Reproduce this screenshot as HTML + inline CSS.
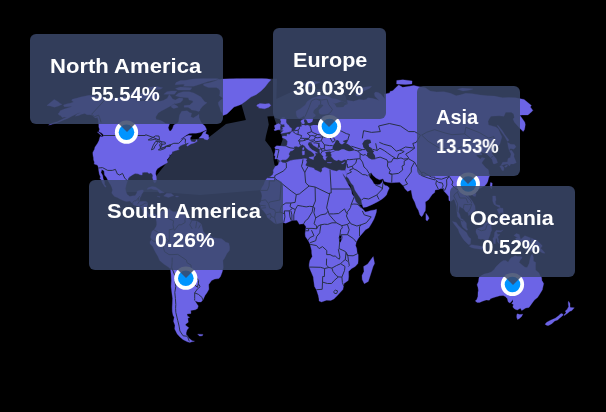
<!DOCTYPE html>
<html><head><meta charset="utf-8"><style>
html,body{margin:0;padding:0;background:#000;}
body{width:606px;height:412px;overflow:hidden;position:relative;font-family:"Liberation Sans",sans-serif;}
svg{position:absolute;left:0;top:0;}
.tt{position:absolute;background:rgba(59,72,106,0.85);border-radius:6px;color:#fff;font-weight:bold;box-sizing:border-box;}
.tx{position:absolute;will-change:transform;white-space:nowrap;font-size:20px;line-height:20px;color:#fff;font-weight:bold;transform-origin:0 0;}
.ar{position:absolute;width:0;height:0;border-left:8px solid transparent;border-right:8px solid transparent;border-top:8px solid rgba(59,72,106,0.85);}
</style></head><body>
<svg width="606" height="412" viewBox="0 0 606 412">
<defs><clipPath id="c"><rect x="0" y="78.5" width="606" height="334"/></clipPath></defs>
<g clip-path="url(#c)">
<path d="M241.7,78.5 L277.0,78.5 L276.0,110.0 L274.0,116.0 L267.4,116.6 L268.8,124.6 L265.9,136.2 L265.2,140.6 L271.0,147.9 L273.2,153.7 L273.6,160.0 L274.5,165.0 L277.0,167.0 L272.0,175.0 L266.0,182.0 L262.0,190.0 L200.0,195.0 L160.0,192.0 L122.0,192.0 L115.0,190.0 L115.0,175.0 L130.0,170.0 L140.0,165.0 L155.8,176.4 L164.9,164.9 L180.0,140.0 L207.7,138.3 L226.0,124.0 L245.9,120.1 L241.7,105.2 L236.0,92.0Z M274.0,117.3 L274.0,100.0 L300.0,88.0 L330.0,90.0 L345.0,95.0 L350.0,110.0 L345.0,125.0 L350.0,135.0 L365.0,140.0 L375.0,140.0 L380.0,150.0 L372.0,165.0 L371.6,173.0 L369.5,178.5 L366.0,181.0 L362.0,205.0 L357.0,205.0 L350.0,185.0 L340.0,178.0 L320.0,178.0 L300.0,172.0 L285.0,166.0 L279.4,163.5 L278.3,163.9 L276.9,159.6 L275.4,153.7 L276.9,147.2 L280.5,145.7 L282.7,139.2 L280.5,131.9 L276.9,126.0Z" fill="#283046"/>
<path d="M63.5,105.0 L67.4,103.7 L70.2,103.2 L73.6,102.0 L71.5,100.3 L72.4,99.3 L77.3,98.1 L80.8,97.0 L89.2,95.3 L94.4,96.1 L98.1,97.0 L103.5,97.3 L106.5,98.1 L109.7,98.8 L114.1,98.3 L116.5,98.5 L121.4,97.5 L124.9,96.5 L127.1,98.3 L133.3,98.6 L136.6,99.3 L139.2,101.0 L144.6,100.8 L147.6,100.3 L151.8,100.0 L156.2,101.2 L160.1,101.2 L163.2,100.5 L167.3,98.3 L169.2,94.5 L171.0,96.6 L172.6,99.1 L175.3,100.0 L179.0,98.1 L182.8,98.3 L182.8,100.0 L180.4,102.5 L175.8,103.7 L174.4,103.4 L172.3,105.1 L167.4,107.7 L165.1,109.0 L161.6,110.8 L158.2,112.9 L155.7,117.1 L156.2,119.4 L159.4,120.0 L162.4,121.3 L165.7,123.5 L169.5,123.9 L168.2,127.8 L169.3,130.7 L170.7,131.1 L172.4,128.8 L173.8,125.0 L177.5,123.1 L178.7,121.3 L179.1,117.6 L179.6,114.9 L181.7,111.3 L187.1,110.8 L189.7,112.7 L191.6,113.1 L190.8,116.7 L193.2,118.0 L196.9,115.8 L199.0,114.3 L199.0,117.6 L200.6,121.3 L202.0,123.5 L204.9,126.0 L206.3,128.8 L206.5,129.7 L203.8,130.9 L200.0,132.6 L196.1,133.2 L192.4,133.2 L189.3,133.4 L186.6,134.9 L183.7,137.0 L181.3,138.8 L180.5,139.7 L182.8,138.4 L186.0,136.3 L188.7,135.3 L191.9,135.7 L190.7,137.2 L190.3,137.8 L190.3,139.4 L191.0,140.7 L191.5,141.7 L193.8,141.9 L195.1,142.1 L196.7,139.6 L197.3,141.3 L196.0,142.1 L194.2,143.1 L190.9,144.0 L187.2,146.2 L186.6,145.2 L188.9,142.9 L189.9,142.7 L187.3,142.9 L185.6,143.7 L183.0,144.6 L180.3,145.8 L178.6,147.6 L178.5,149.2 L179.3,149.6 L177.6,150.1 L175.1,150.7 L172.5,151.7 L171.8,153.7 L170.1,155.3 L169.5,154.1 L169.6,156.3 L167.7,158.9 L167.0,159.1 L167.2,160.7 L167.5,162.5 L165.6,163.7 L162.9,165.3 L160.7,166.6 L157.4,168.8 L156.0,171.0 L155.6,173.8 L156.2,176.2 L156.5,179.4 L156.1,181.4 L155.4,182.6 L154.2,182.8 L153.5,181.2 L153.1,179.8 L152.5,177.6 L152.9,175.8 L152.1,174.0 L150.8,173.0 L149.0,173.6 L147.4,172.2 L144.7,172.2 L142.4,172.6 L142.1,174.4 L142.3,175.0 L140.2,174.8 L138.0,173.8 L135.1,173.6 L133.2,174.4 L129.9,176.6 L128.3,178.2 L127.4,181.2 L126.3,184.6 L125.4,188.4 L125.8,191.0 L127.1,194.4 L128.9,195.8 L129.8,196.6 L133.1,195.8 L135.0,195.8 L136.4,193.8 L137.5,191.0 L141.5,190.0 L143.2,190.0 L143.3,192.0 L141.8,194.0 L140.9,196.6 L140.0,197.8 L139.6,200.6 L138.8,201.4 L140.9,201.4 L143.4,201.2 L146.1,201.4 L147.8,203.0 L147.2,205.9 L146.9,209.9 L147.6,211.7 L149.1,214.3 L151.7,214.7 L153.4,213.7 L155.1,214.1 L156.9,215.5 L157.0,217.1 L155.4,217.9 L155.0,216.1 L153.2,215.1 L152.1,216.5 L151.7,218.1 L150.3,217.5 L148.2,216.5 L146.3,215.7 L143.2,213.3 L142.9,210.9 L141.1,207.7 L140.2,206.7 L137.0,205.9 L133.7,205.0 L132.5,203.8 L129.9,201.0 L126.4,201.6 L123.2,200.6 L120.0,199.0 L117.3,197.6 L114.5,196.4 L113.0,194.8 L111.7,193.0 L112.5,190.0 L111.8,187.4 L110.7,185.0 L108.8,182.0 L107.8,180.0 L106.5,177.4 L104.5,175.0 L104.1,171.0 L101.8,169.4 L101.0,172.6 L102.7,175.4 L103.2,179.0 L104.4,181.2 L104.6,184.4 L106.2,186.6 L105.2,187.2 L103.3,184.4 L102.4,183.0 L101.1,179.6 L99.8,178.4 L100.5,177.0 L99.3,174.0 L98.7,170.4 L98.5,168.0 L97.9,165.9 L97.2,165.1 L94.2,164.1 L94.4,162.1 L93.6,159.9 L93.5,157.7 L93.2,156.5 L92.9,154.5 L92.8,152.5 L94.5,149.2 L94.9,147.2 L97.6,143.3 L98.9,140.7 L100.1,136.6 L102.1,137.0 L103.9,135.7 L103.1,134.5 L101.7,133.0 L98.8,131.6 L99.5,129.2 L98.8,126.9 L98.8,124.6 L98.4,123.1 L98.3,120.4 L97.5,117.6 L95.1,118.0 L93.5,116.3 L92.3,115.2 L89.9,114.7 L87.1,114.7 L84.7,113.4 L81.5,114.3 L78.8,115.4 L75.2,116.3 L77.2,114.0 L80.5,112.7 L78.1,113.1 L75.4,114.5 L71.8,116.2 L67.6,118.5 L64.3,119.8 L60.8,121.3 L56.5,123.0 L52.7,124.1 L48.6,125.0 L52.7,123.1 L57.4,121.7 L62.9,118.9 L66.7,117.1 L64.6,117.1 L62.1,117.4 L60.8,115.8 L59.0,115.1 L58.1,113.8 L59.5,112.2 L60.2,110.8 L63.7,109.3 L70.9,107.0 L71.8,106.2 L67.4,106.7 L64.2,106.7 L63.5,105.0Z M207.0,102.7 L202.8,106.0 L200.0,109.5 L200.1,110.4 L198.5,111.5 L195.5,110.4 L191.6,109.9 L190.1,108.6 L188.1,107.2 L184.0,107.2 L184.2,105.5 L189.8,105.1 L191.3,103.4 L193.3,102.0 L192.1,100.5 L189.1,100.0 L188.3,97.8 L185.3,97.5 L179.8,97.0 L175.4,95.8 L178.3,93.3 L183.1,91.7 L189.3,91.7 L193.7,92.9 L197.5,95.0 L201.0,97.0 L202.1,98.6 L204.7,101.7Z M136.5,98.6 L141.0,99.5 L147.0,99.3 L150.7,98.8 L157.2,98.5 L158.1,95.8 L156.8,92.5 L154.9,91.9 L151.1,92.7 L147.3,92.7 L142.1,92.9 L137.9,94.8 L136.9,96.8Z M130.5,94.5 L134.5,95.0 L138.9,93.7 L139.9,90.6 L135.1,90.5 L130.6,93.3Z M183.4,86.3 L193.6,86.3 L200.6,84.0 L208.2,81.6 L219.1,79.3 L216.9,78.1 L206.0,77.8 L193.9,78.7 L185.1,80.5 L181.8,82.6 L184.6,84.8Z M178.0,90.1 L190.3,90.1 L191.9,87.8 L180.3,87.0 L175.5,88.6Z M171.7,107.4 L173.7,108.6 L178.3,107.2 L177.2,106.0 L174.1,104.3 L171.1,106.0Z M168.8,94.2 L174.5,94.2 L176.8,90.9 L171.2,90.9 L166.9,91.7 L163.8,94.2Z M160.1,89.3 L147.1,90.1 L146.6,87.5 L156.6,86.6 L162.7,87.8Z M175.1,84.8 L185.2,84.0 L188.5,80.5 L180.5,80.5 L176.0,82.6Z M223.0,115.4 L226.9,114.0 L229.0,112.0 L234.0,107.0 L237.7,105.8 L241.0,104.4 L246.0,101.0 L250.9,97.0 L256.0,94.7 L261.0,90.9 L265.0,87.0 L268.6,82.3 L271.0,79.8 L266.8,78.6 L256.1,77.3 L245.0,77.5 L233.5,78.2 L221.6,79.1 L218.9,79.6 L214.3,81.2 L210.4,82.6 L203.5,84.0 L203.7,85.5 L208.4,87.6 L216.3,87.6 L218.3,88.6 L219.9,90.5 L219.9,93.3 L219.5,95.8 L222.1,97.5 L222.8,99.0 L220.5,100.0 L218.2,102.5 L218.6,105.1 L219.8,107.7 L220.7,111.3 L222.3,113.1Z M256.9,105.1 L259.8,103.6 L265.1,103.9 L269.2,103.4 L270.9,105.5 L268.8,107.2 L264.6,108.8 L261.2,108.3 L258.3,107.9 L259.4,106.9 L256.8,106.2Z M146.9,189.2 L148.6,187.6 L152.1,186.6 L155.4,187.0 L159.2,189.4 L162.3,191.6 L164.4,192.6 L159.6,193.2 L158.6,192.0 L157.5,190.0 L153.4,189.4 L151.0,188.6 L148.4,189.2Z M163.6,196.0 L166.7,193.2 L171.3,193.6 L173.8,195.8 L171.0,196.6 L168.4,197.6 L166.3,196.8Z M157.0,196.2 L160.3,196.8 L159.3,197.2 L157.5,196.6Z M175.8,196.0 L178.5,196.2 L178.2,197.0 L175.7,197.0Z M198.8,138.2 L201.5,135.5 L203.3,132.2 L206.6,130.5 L205.5,133.6 L208.5,134.9 L208.9,138.4 L207.3,139.9 L204.4,139.2 L203.4,138.2Z M102.2,136.6 L100.1,134.5 L97.3,132.0 L98.9,132.6 L101.1,134.5Z M157.0,217.1 L157.6,215.5 L159.4,214.1 L160.4,211.9 L162.1,210.9 L164.7,210.3 L166.6,208.3 L167.5,209.3 L167.8,210.5 L170.0,208.5 L170.2,210.1 L173.2,211.7 L176.6,211.7 L180.0,211.7 L182.6,211.5 L183.6,212.3 L183.0,212.9 L184.9,215.7 L186.6,215.9 L188.3,217.9 L189.6,219.3 L191.6,220.8 L195.0,220.8 L197.6,221.6 L200.1,223.0 L201.5,224.6 L202.6,229.2 L203.4,231.8 L206.0,234.7 L209.4,234.7 L212.9,237.7 L217.2,238.3 L221.5,238.7 L224.1,240.7 L225.8,242.3 L228.7,243.1 L229.7,247.2 L229.4,250.6 L226.9,253.6 L224.5,258.2 L222.9,260.5 L223.3,267.5 L222.2,272.1 L220.5,276.5 L218.9,278.5 L214.8,279.1 L211.6,280.5 L208.7,284.5 L208.9,289.3 L207.1,292.5 L205.0,295.5 L203.2,299.4 L201.1,302.0 L197.9,302.0 L194.7,300.4 L197.6,305.0 L198.3,306.0 L197.5,308.4 L195.3,309.8 L190.7,310.4 L191.0,313.4 L186.9,314.0 L187.6,316.3 L189.6,317.3 L187.8,318.3 L188.3,322.2 L185.5,324.2 L185.8,325.4 L188.8,327.7 L187.0,330.0 L186.1,332.9 L186.3,334.8 L187.8,336.3 L188.4,337.7 L192.1,340.7 L194.5,341.2 L191.8,341.8 L189.8,342.4 L187.4,341.8 L184.8,340.5 L182.9,339.5 L179.7,336.7 L177.2,333.9 L174.7,329.0 L175.0,325.2 L173.5,321.3 L174.2,317.3 L173.1,315.4 L172.3,311.4 L172.2,307.4 L172.4,303.4 L172.6,298.5 L171.8,292.5 L171.1,286.5 L171.4,280.5 L171.1,274.5 L170.5,269.1 L168.3,267.1 L163.8,264.1 L159.7,260.5 L158.0,256.6 L155.1,251.6 L152.7,246.6 L150.1,243.7 L149.9,241.7 L151.6,239.5 L150.5,237.1 L151.3,233.7 L152.0,231.2 L153.9,230.0 L156.0,226.8 L156.7,224.8 L156.6,221.8 L155.9,218.5Z M197.7,334.2 L203.0,334.4 L202.3,335.8 L199.5,336.1Z M279.7,161.5 L280.7,161.3 L282.7,162.7 L285.6,162.9 L287.6,161.9 L290.0,160.7 L293.2,159.9 L297.2,159.5 L301.2,159.1 L304.9,158.5 L307.0,158.9 L306.0,160.5 L306.9,162.1 L305.7,164.5 L305.7,165.5 L307.4,166.6 L310.3,167.2 L313.9,168.2 L314.8,169.8 L317.8,171.0 L320.7,172.4 L322.1,171.0 L321.9,168.6 L324.5,167.2 L327.0,168.0 L330.0,169.4 L333.3,170.4 L336.7,171.2 L339.0,170.0 L341.8,170.4 L345.1,170.4 L346.6,174.0 L345.8,177.6 L342.7,173.2 L343.0,175.0 L344.8,178.2 L346.5,181.4 L348.6,185.2 L351.0,189.0 L352.0,194.0 L354.2,197.0 L355.8,201.4 L357.4,203.4 L359.2,205.7 L361.4,207.9 L363.0,209.3 L365.3,212.1 L367.6,211.5 L371.0,210.5 L374.4,209.9 L376.6,209.3 L376.4,211.9 L375.5,214.9 L373.9,219.3 L371.4,223.8 L368.9,227.8 L365.5,229.8 L362.1,233.7 L359.5,236.7 L358.1,238.7 L356.3,242.1 L355.6,245.6 L356.7,248.6 L357.1,252.6 L358.2,254.6 L358.2,260.5 L357.9,263.5 L355.2,266.5 L351.7,268.5 L348.5,271.5 L348.7,276.5 L348.2,280.5 L344.0,283.5 L343.8,285.1 L342.9,289.5 L340.1,292.5 L337.4,295.5 L333.9,298.9 L330.8,300.4 L326.5,300.2 L321.5,302.0 L319.1,301.0 L318.9,298.5 L318.3,295.5 L316.4,289.7 L314.5,286.5 L313.4,278.5 L313.3,277.1 L311.4,272.5 L309.1,267.1 L309.2,264.1 L309.9,260.5 L312.3,256.6 L311.7,253.6 L311.6,250.6 L310.2,244.9 L310.1,244.3 L308.2,240.5 L305.5,236.7 L305.1,233.7 L305.5,230.8 L306.0,226.8 L304.6,224.8 L303.7,223.8 L301.2,224.0 L299.3,224.2 L297.7,221.2 L296.7,220.3 L292.6,220.3 L290.9,221.0 L285.8,223.2 L282.3,222.4 L276.3,224.0 L273.8,222.8 L269.7,219.3 L267.1,217.3 L266.6,215.1 L263.6,211.1 L260.7,208.3 L260.8,205.7 L259.5,203.6 L260.9,202.0 L262.0,196.0 L261.6,193.8 L260.6,191.0 L261.9,187.6 L263.8,184.6 L265.1,180.8 L267.5,177.8 L270.2,176.8 L272.7,174.4 L273.4,172.2 L273.2,170.2 L275.2,166.6 L277.8,165.3 L279.0,163.1Z M373.2,256.6 L374.6,263.5 L373.1,266.5 L370.9,273.5 L368.3,281.5 L364.3,283.7 L362.2,279.5 L362.0,275.5 L364.0,271.5 L363.6,266.5 L367.7,264.1 L370.6,259.9Z M280.2,161.1 L279.1,160.1 L277.3,158.7 L274.9,159.1 L275.2,155.7 L274.1,155.5 L275.1,152.1 L275.4,149.2 L274.7,147.2 L276.7,145.8 L280.2,146.0 L283.3,146.3 L286.4,146.4 L287.2,144.2 L287.5,141.3 L285.8,139.2 L282.2,137.6 L282.4,136.3 L284.6,135.9 L286.8,136.3 L287.1,134.1 L289.5,134.5 L291.6,131.8 L292.9,131.5 L294.7,130.7 L296.0,128.2 L297.3,127.1 L299.5,126.9 L301.7,126.5 L301.8,123.1 L300.8,121.3 L301.5,120.2 L304.3,119.1 L305.1,118.0 L304.7,116.7 L304.0,115.8 L302.6,116.7 L299.2,118.5 L297.1,117.1 L296.2,114.0 L296.1,111.3 L298.1,110.0 L300.1,109.0 L302.7,106.9 L305.3,105.1 L307.0,101.7 L309.5,100.0 L312.5,98.0 L316.2,97.1 L321.1,95.6 L325.0,95.8 L329.1,97.0 L332.1,98.6 L336.1,99.1 L341.9,101.2 L347.9,103.9 L346.9,100.3 L350.3,100.8 L353.7,101.2 L359.1,99.6 L363.8,100.0 L366.2,99.5 L367.8,97.8 L372.2,98.3 L376.6,99.5 L379.1,100.5 L374.9,96.3 L374.3,93.3 L375.5,92.1 L378.2,92.5 L381.0,94.2 L384.9,99.1 L384.2,94.2 L386.4,93.7 L389.7,92.9 L390.1,91.4 L392.8,90.8 L396.2,87.3 L398.7,84.9 L402.7,87.3 L409.6,86.3 L413.9,85.5 L418.1,86.6 L425.4,87.8 L430.1,90.9 L436.6,91.9 L443.9,91.7 L450.5,93.3 L456.1,95.8 L460.8,94.8 L465.7,93.3 L472.3,93.7 L480.1,95.0 L487.4,95.8 L494.2,96.1 L502.6,97.8 L508.6,97.5 L515.5,97.8 L524.1,99.5 L531.4,105.5 L530.3,106.9 L532.9,110.4 L530.3,113.1 L527.9,114.9 L522.3,114.9 L519.8,115.2 L522.2,118.5 L524.8,122.2 L525.3,124.5 L524.9,127.5 L524.4,129.7 L523.2,131.6 L519.3,127.8 L514.4,122.2 L513.0,118.9 L514.3,117.6 L513.7,114.0 L511.3,112.2 L505.7,112.2 L503.9,116.3 L499.2,115.8 L491.0,116.2 L489.4,118.5 L488.0,121.3 L488.5,125.0 L495.7,126.9 L498.2,128.8 L500.3,133.6 L501.9,136.8 L501.1,139.7 L499.8,144.2 L496.9,147.6 L493.9,148.0 L493.4,151.1 L491.8,153.5 L496.4,159.1 L497.6,162.7 L494.5,163.9 L493.3,163.7 L492.1,159.5 L490.4,157.5 L486.8,153.9 L482.8,152.7 L480.3,151.3 L482.2,155.1 L476.5,154.7 L476.6,156.1 L479.2,158.1 L480.4,158.9 L481.9,157.5 L485.1,158.3 L482.9,160.9 L481.7,163.1 L485.8,167.8 L488.2,169.6 L488.8,171.4 L488.9,174.0 L489.9,175.0 L488.6,178.0 L487.8,181.4 L486.6,183.8 L484.6,186.0 L480.9,188.0 L477.0,189.4 L474.7,190.6 L474.2,192.4 L473.2,190.0 L471.2,189.8 L468.5,191.6 L467.4,194.0 L469.0,197.0 L472.2,201.0 L475.0,205.9 L475.3,209.9 L472.6,211.9 L471.0,213.7 L468.6,215.7 L468.0,212.5 L465.7,211.7 L463.4,208.5 L460.9,207.5 L459.5,205.9 L458.4,211.9 L459.8,214.5 L460.9,218.5 L462.9,219.3 L466.3,223.0 L466.6,227.2 L467.8,230.0 L466.6,230.2 L462.8,227.2 L461.2,223.8 L460.7,220.1 L457.6,216.5 L456.9,211.9 L456.7,206.7 L454.6,200.0 L453.6,199.2 L450.9,201.4 L448.9,200.4 L448.7,196.6 L446.7,194.0 L444.3,191.6 L443.0,188.6 L440.8,188.6 L438.4,189.4 L435.1,190.0 L434.7,192.6 L432.4,194.2 L428.5,199.8 L425.3,202.0 L425.6,206.3 L425.3,210.9 L424.3,212.3 L423.0,215.1 L421.7,216.7 L419.9,215.1 L418.4,210.3 L416.5,207.3 L414.7,202.0 L412.6,198.0 L411.8,194.0 L411.2,190.6 L410.8,190.0 L407.6,191.4 L404.7,188.4 L403.6,186.0 L401.1,183.8 L399.7,182.2 L395.6,182.4 L391.5,182.8 L387.3,182.2 L384.4,181.4 L383.0,178.8 L379.5,179.8 L376.0,178.0 L372.8,175.2 L371.4,172.8 L368.8,173.2 L368.2,175.0 L369.3,177.0 L371.2,179.2 L372.5,181.0 L373.8,183.6 L375.2,184.6 L377.6,184.8 L380.0,184.4 L382.3,182.0 L382.7,180.4 L382.9,183.2 L385.2,185.4 L387.4,186.0 L389.3,188.0 L387.5,192.0 L386.5,195.0 L384.3,197.2 L382.2,199.0 L377.7,201.8 L372.4,204.4 L366.6,206.9 L363.2,207.5 L362.7,206.3 L361.8,203.0 L361.3,199.6 L358.7,195.8 L355.0,190.2 L353.5,185.8 L351.1,183.0 L348.4,178.2 L346.6,176.4 L346.7,174.0 L345.3,170.4 L346.0,168.0 L346.2,166.8 L346.8,164.7 L347.0,162.3 L347.3,159.9 L346.1,159.9 L344.6,159.5 L341.4,160.9 L338.3,159.7 L336.9,160.7 L334.1,159.7 L333.0,158.5 L331.2,156.5 L331.7,154.7 L330.7,154.1 L331.4,152.5 L334.9,151.3 L334.8,150.9 L333.3,151.1 L331.0,151.9 L329.4,151.3 L326.7,151.7 L324.9,152.5 L326.1,154.1 L325.5,156.1 L326.0,156.7 L327.4,156.7 L325.9,158.1 L325.8,160.1 L325.1,160.3 L324.0,159.5 L322.9,157.5 L323.3,156.5 L322.3,155.5 L321.0,153.7 L319.8,152.5 L319.8,149.6 L318.1,148.2 L315.7,146.8 L313.2,145.2 L311.6,142.9 L310.3,143.1 L310.1,141.7 L308.3,142.7 L307.9,144.4 L309.8,147.8 L312.4,150.1 L314.4,151.1 L316.5,152.3 L317.5,152.9 L317.0,153.3 L315.7,152.5 L315.2,153.7 L315.9,154.9 L315.0,155.9 L314.4,156.7 L314.0,156.3 L314.4,154.7 L313.1,153.1 L310.9,151.3 L308.5,150.1 L306.1,148.0 L304.7,146.0 L302.4,144.6 L300.8,145.6 L298.5,147.0 L296.2,146.2 L293.9,146.8 L294.2,149.2 L292.3,150.7 L290.4,151.1 L288.7,154.1 L289.5,155.7 L288.1,157.9 L286.0,159.7 L282.1,159.7Z M54.2,99.5 L58.1,101.7 L60.1,103.4 L62.0,104.3 L58.5,106.0 L54.4,107.2 L50.4,106.0 L46.9,105.5Z M532.2,254.0 L533.5,257.6 L533.4,261.1 L535.7,262.5 L535.5,265.5 L535.6,270.1 L539.0,272.9 L540.0,275.5 L541.6,277.5 L541.9,280.5 L543.7,283.5 L542.6,288.5 L542.4,289.7 L539.5,294.5 L537.5,297.5 L534.4,300.0 L532.6,302.4 L529.0,307.4 L525.8,308.0 L521.7,310.6 L520.4,308.2 L517.3,310.0 L514.6,309.0 L512.8,307.0 L513.5,304.4 L511.7,303.6 L513.0,301.8 L513.0,299.4 L511.4,301.4 L509.9,303.0 L508.6,302.2 L508.0,301.4 L507.4,298.7 L505.3,296.5 L503.2,295.5 L499.9,295.7 L495.3,297.1 L490.8,298.5 L489.3,300.2 L486.1,300.0 L482.5,301.2 L479.6,302.4 L477.2,302.4 L475.3,301.0 L476.8,299.4 L477.9,296.5 L478.0,292.5 L478.4,290.5 L478.0,287.5 L477.1,284.7 L478.5,281.5 L479.0,277.5 L480.6,276.1 L484.1,274.1 L488.5,273.1 L491.2,272.1 L494.2,269.5 L496.0,266.7 L497.5,265.3 L500.4,262.5 L503.3,260.5 L505.8,260.5 L508.1,262.3 L509.7,259.6 L511.3,257.6 L513.1,257.0 L515.2,255.6 L517.4,256.6 L520.0,256.6 L522.1,257.0 L521.4,259.0 L520.2,259.9 L519.1,262.5 L522.1,264.9 L525.0,267.3 L527.2,267.5 L529.1,263.5 L530.1,258.6 L531.0,255.6Z M517.4,313.8 L519.8,314.6 L522.8,314.2 L521.4,316.7 L519.1,318.7 L517.5,319.5 L516.7,317.3 L516.8,314.8Z M568.5,301.2 L570.0,303.4 L570.0,306.4 L570.4,307.6 L574.3,307.8 L571.6,310.8 L569.9,311.2 L567.2,313.6 L564.3,315.6 L563.8,315.0 L566.1,312.8 L565.3,311.0 L567.1,309.4 L568.7,306.4 L568.4,304.8 L568.2,302.8Z M561.8,313.4 L563.2,314.6 L562.6,315.7 L559.5,318.3 L557.7,319.9 L554.7,320.9 L551.8,323.8 L548.5,325.4 L547.0,325.4 L545.0,324.2 L546.8,322.2 L550.5,320.3 L555.2,318.3 L558.3,315.9 L560.4,314.0Z M513.8,235.5 L516.4,233.5 L519.3,234.5 L520.6,239.5 L524.9,235.7 L530.0,237.7 L536.8,240.3 L539.2,242.7 L541.7,245.1 L542.3,246.0 L540.5,248.2 L542.9,250.4 L545.1,253.2 L542.6,253.0 L540.2,251.6 L538.8,248.6 L535.4,247.8 L534.0,250.6 L532.6,251.2 L530.0,250.8 L527.6,249.0 L525.0,249.4 L525.8,246.6 L525.2,243.1 L521.3,241.7 L517.9,240.7 L516.7,240.9 L515.4,238.3 L518.0,237.3 L516.3,236.9 L514.3,235.7Z M476.1,229.8 L477.1,228.8 L479.8,227.8 L482.9,226.4 L484.5,223.8 L487.0,222.2 L488.9,219.1 L490.7,220.8 L493.3,222.4 L491.8,223.8 L491.1,225.8 L491.7,230.4 L490.7,232.2 L490.1,234.7 L488.9,237.7 L487.9,240.7 L485.4,240.3 L482.9,239.1 L480.5,239.3 L478.1,238.5 L478.0,236.1 L476.6,233.7 L475.9,232.0Z M452.4,221.6 L456.2,222.4 L458.3,225.4 L461.5,228.6 L463.2,229.8 L466.7,232.8 L467.5,234.7 L469.0,237.3 L470.9,238.7 L470.3,244.3 L468.3,244.5 L464.5,240.7 L462.3,237.7 L459.3,232.8 L458.2,229.2 L455.8,226.2 L454.4,224.4Z M469.2,246.2 L471.5,244.7 L474.6,245.2 L478.3,245.8 L481.8,246.4 L484.8,248.0 L484.7,249.6 L480.6,249.2 L477.2,248.8 L473.9,248.2 L471.2,247.4Z M493.8,243.7 L495.4,243.7 L495.6,238.7 L496.9,238.3 L497.3,241.7 L499.3,243.7 L498.6,239.7 L497.7,236.7 L500.1,234.5 L497.5,234.3 L496.7,232.0 L501.0,232.0 L503.3,229.8 L500.9,230.8 L496.3,230.2 L494.6,232.4 L494.1,236.7 L492.8,238.7Z M492.7,196.0 L495.5,196.0 L496.1,200.0 L495.3,201.4 L495.7,204.6 L499.9,205.4 L500.2,207.7 L498.4,206.9 L495.7,205.4 L494.0,204.4 L492.7,201.0 L492.7,198.0Z M497.9,218.9 L500.4,217.3 L503.4,213.3 L505.3,216.9 L505.2,220.3 L503.7,221.6 L501.4,220.3 L498.7,218.5Z M497.0,209.3 L500.3,207.9 L503.0,208.3 L503.2,212.5 L500.8,212.5 L499.1,214.5 L498.0,211.7Z M490.0,187.0 L490.5,182.6 L492.2,183.0 L492.1,186.0 L491.6,189.0Z M472.2,194.6 L474.6,192.8 L476.1,193.8 L475.4,196.4 L473.1,196.0Z M501.2,165.1 L502.7,162.3 L507.4,161.9 L508.0,158.5 L510.3,157.5 L511.1,154.1 L509.3,150.5 L511.6,150.3 L514.2,153.9 L513.9,156.7 L515.3,160.1 L516.3,162.7 L514.9,163.3 L513.5,163.9 L510.6,163.9 L509.6,166.1 L507.4,163.9 L504.4,164.5 L501.8,165.3Z M499.7,166.1 L501.9,165.5 L503.9,167.4 L503.7,170.4 L502.1,170.6 L500.6,167.6Z M504.4,166.6 L507.1,164.7 L507.6,165.7 L506.0,167.4Z M509.1,150.1 L508.2,146.8 L507.5,142.5 L510.6,144.2 L514.4,144.6 L516.0,146.8 L513.8,149.2 L510.6,148.4Z M507.4,141.3 L509.1,140.3 L504.7,134.5 L502.4,130.7 L498.2,125.6 L497.1,125.4 L500.6,130.7 L504.7,136.5Z M425.9,219.9 L425.9,213.3 L428.0,215.9 L429.1,218.3 L427.2,221.0Z M280.6,133.4 L283.9,133.0 L287.7,132.2 L291.3,131.3 L291.7,128.4 L289.6,126.9 L288.9,125.4 L287.1,124.1 L286.1,122.2 L286.2,119.3 L284.2,119.1 L284.8,117.4 L282.1,117.4 L280.3,119.4 L281.1,121.7 L280.5,123.5 L281.9,124.5 L284.2,124.3 L284.5,126.0 L284.8,127.1 L282.4,127.3 L283.1,129.2 L281.3,130.1 L284.0,130.7 L282.8,131.3Z M280.3,129.4 L280.1,126.9 L280.7,124.8 L278.7,123.5 L276.8,124.3 L274.5,125.6 L274.6,127.1 L275.1,128.6 L273.9,129.9 L274.9,130.7 L277.3,130.1Z M309.0,157.3 L314.0,156.5 L313.4,159.7 L309.2,157.9Z M302.5,155.1 L302.1,151.3 L304.6,150.9 L304.4,154.7Z M302.7,150.3 L302.6,148.0 L303.8,147.2 L304.1,149.2Z M327.1,162.5 L331.6,162.5 L331.1,163.1 L327.2,162.7Z M341.4,163.7 L344.9,161.7 L343.9,163.3 L342.4,163.9Z M355.4,95.0 L358.4,91.7 L360.1,88.6 L365.4,87.0 L371.6,86.3 L369.7,88.3 L363.7,90.9 L360.8,95.8 L357.1,96.1Z M302.2,84.0 L307.7,81.9 L314.5,81.2 L320.5,81.9 L315.2,84.3 L309.7,86.9 L305.3,85.5Z M396.6,83.9 L396.7,80.5 L402.8,79.8 L412.1,80.9 L411.9,83.9 L405.4,84.5Z M457.5,89.3 L462.2,88.1 L472.9,88.9 L469.5,90.1 L463.0,90.9Z" fill="#6c64e6" stroke="#6c64e6" stroke-width="0.3" fill-rule="nonzero"/>
<path d="M362.0,144.2 L364.3,140.5 L367.1,139.4 L370.3,139.7 L371.2,142.7 L368.6,144.0 L369.1,146.8 L371.6,148.0 L372.3,150.1 L374.3,151.3 L372.9,152.7 L374.8,155.3 L375.5,158.3 L375.5,159.3 L371.7,159.5 L368.6,158.1 L367.0,156.1 L367.1,152.5 L368.8,152.5 L367.3,151.9 L365.4,149.6 L363.3,147.2 L362.7,144.2Z M332.5,148.2 L332.8,146.2 L333.7,144.6 L334.9,142.9 L335.9,140.5 L337.4,140.1 L339.1,141.3 L339.3,142.5 L341.1,144.2 L342.6,144.2 L344.0,143.1 L345.5,142.7 L343.9,142.3 L342.9,140.9 L345.8,139.9 L349.0,139.0 L347.8,140.7 L347.0,142.7 L345.7,142.9 L348.0,144.2 L350.6,146.0 L354.2,149.2 L354.4,150.3 L351.4,151.1 L349.0,151.3 L346.6,150.5 L344.0,149.2 L341.7,149.2 L338.7,150.7 L335.0,150.7 L333.1,149.6Z M303.8,124.5 L305.0,125.6 L307.4,125.0 L310.1,126.1 L313.3,125.0 L316.3,125.0 L318.2,125.0 L319.8,123.5 L319.4,121.3 L320.1,119.4 L321.5,119.1 L324.0,120.0 L322.6,117.6 L322.2,116.3 L325.8,115.8 L329.3,115.2 L331.3,114.9 L327.6,114.0 L324.2,114.5 L320.7,114.5 L318.9,113.1 L318.7,109.9 L321.2,107.7 L322.9,106.0 L323.4,105.0 L320.6,104.3 L318.7,105.1 L317.9,106.9 L315.2,109.0 L313.6,110.8 L313.3,113.1 L315.3,114.5 L315.7,116.0 L313.3,117.6 L312.8,119.8 L312.3,121.8 L309.9,123.1 L307.9,123.1 L307.4,121.8 L306.2,119.6 L304.3,119.3 L304.0,121.3 L304.8,123.1Z M335.1,103.4 L332.3,102.5 L334.5,103.7 L336.7,107.2 L340.1,107.2 L343.4,106.9 L344.9,105.1 L347.9,103.9 L341.9,101.2 L337.0,102.9Z" fill="#283046"/>
<path d="M103.0,135.5 L145.3,135.5 L145.6,134.7 L153.0,137.4 L159.3,140.1 L162.1,142.7 L160.0,148.6 L166.1,146.6 L170.5,144.8 L173.8,143.3 L178.7,143.3 L181.9,140.3 L183.6,138.6 L185.6,139.2 L185.2,142.3 L185.6,143.7 M106.5,98.1 L91.6,114.3 L94.6,116.7 L98.6,115.2 L99.6,117.6 L101.1,122.4 M98.5,168.0 L102.5,167.6 L107.7,170.4 L112.3,170.4 L115.4,169.4 L117.4,174.0 L119.6,175.0 L122.5,173.4 L124.7,178.0 L127.8,181.2 M132.6,204.0 L132.8,202.4 L134.3,200.8 L136.0,200.8 L138.7,197.4 L140.2,196.0 M138.7,197.4 L138.0,201.2 M137.5,204.2 L139.2,201.4 M139.9,206.1 L142.2,205.0 L144.9,203.2 L147.8,203.0 M143.1,210.7 L146.5,210.9 M147.3,215.9 L148.1,213.7 M176.8,278.1 L175.0,281.5 L175.8,286.5 L174.8,292.5 L175.4,298.5 L175.8,304.4 L175.6,308.4 L175.8,312.4 L177.7,320.3 L179.1,326.1 L179.9,331.0 L183.1,335.8 L187.7,336.3 M187.7,336.9 L189.3,341.4 M176.8,278.1 L180.3,276.7 L184.1,276.9 L189.1,280.5 L192.7,283.1 L197.4,287.3 L198.4,283.7 M198.4,283.7 L200.1,286.7 L197.3,289.1 L194.7,292.9 L194.7,298.5 L194.6,300.4 M194.7,292.9 L198.3,294.3 L202.1,297.5 L202.6,299.8 M198.4,283.7 L198.6,280.5 L196.2,277.1 L192.2,276.7 L191.2,272.1 M184.1,276.9 L184.4,272.7 L189.6,271.1 L191.2,272.1 M176.8,278.1 L174.7,275.1 L171.7,267.5 L172.1,262.5 L172.2,257.6 M191.2,272.1 L191.0,265.1 L187.0,262.7 L186.4,260.1 L177.8,254.4 L172.0,254.6 M170.5,269.1 L171.7,267.5 M172.0,254.6 L169.0,254.6 L164.5,251.6 L163.5,247.6 L164.3,243.1 L169.2,241.3 L169.3,234.7 L169.2,229.8 L173.8,228.8 L174.5,230.4 M151.6,239.5 L154.4,241.9 L159.5,233.1 L154.1,230.0 M159.5,233.1 L163.2,235.1 L169.2,241.3 M166.6,208.3 L165.6,210.9 L165.2,216.9 L169.4,218.9 L173.6,220.8 L173.0,224.8 L173.8,228.8 M186.6,215.9 L184.8,219.9 L185.2,222.4 L181.2,224.8 L178.7,224.8 L174.5,230.4 M191.6,220.8 L189.8,224.8 L192.3,229.0 M196.7,221.4 L195.7,228.2 M200.8,224.4 L198.5,228.4 M286.3,162.9 L286.4,168.0 L283.1,171.2 L274.8,175.6 L274.8,177.6 L267.4,177.6 M274.8,178.4 L274.7,181.0 L269.3,181.0 L269.1,186.0 L267.4,190.4 L260.6,190.4 M274.8,178.4 L281.2,183.0 L279.9,200.0 L269.7,202.0 L268.5,203.6 L265.5,199.8 L261.2,200.6 M281.2,183.0 L291.2,191.0 L296.3,194.6 L299.3,194.0 L309.1,186.0 M303.0,159.3 L302.4,163.1 L301.5,166.2 L304.8,172.6 M307.9,166.8 L306.0,170.0 L304.8,172.6 L305.4,180.0 L305.8,183.0 L309.1,186.0 M330.0,169.8 L331.1,189.0 L351.0,189.0 M331.1,189.0 L331.2,193.0 L329.6,193.0 L329.6,194.0 L315.1,187.0 L309.1,186.0 M329.6,194.0 L327.4,204.0 L326.6,207.9 L328.1,211.1 M328.1,211.1 L329.3,214.9 L330.2,215.9 L333.7,219.9 L336.3,222.8 M329.3,213.9 L333.6,213.9 L338.7,213.5 L344.5,208.9 L346.4,212.9 L347.6,212.9 M351.2,204.4 L354.2,197.0 M346.4,212.9 L348.0,211.3 L350.5,207.5 L351.2,204.4 L353.7,204.0 L357.1,204.2 L359.7,205.9 L361.4,207.9 M362.3,210.9 L364.3,214.9 L371.2,216.9 L366.3,222.8 L361.1,224.8 L356.9,226.0 L350.9,223.8 L350.0,222.4 L348.2,219.9 L346.4,215.9 L347.6,212.9 M361.1,224.8 L359.5,226.8 L359.5,236.1 M350.0,222.4 L347.4,224.4 L343.2,225.4 L341.8,225.6 L336.3,222.8 L332.0,222.8 L327.7,224.4 L324.3,224.2 L320.9,224.8 L318.3,225.8 L316.6,228.8 M328.1,211.1 L325.9,213.9 L320.8,214.9 L315.7,217.9 L313.9,212.9 L314.7,207.9 L313.0,206.7 L315.4,201.0 L315.1,187.0 M313.0,206.7 L309.6,206.3 L306.2,206.9 L302.8,206.3 L297.7,205.4 L295.3,209.5 L292.6,208.3 L290.0,206.5 L290.9,203.0 L295.1,202.4 L296.3,194.6 M290.9,203.0 L285.8,203.0 L281.5,205.9 L280.1,210.5 L280.1,212.1 L275.5,212.5 L274.7,209.9 L269.8,208.1 L268.5,203.6 M280.1,212.1 L284.4,213.7 L284.4,210.9 L289.2,210.9 L292.6,208.3 M284.4,210.9 L284.9,216.9 L283.7,222.6 M289.2,210.9 L290.0,216.9 L291.2,220.6 M290.9,210.9 L291.9,214.9 L291.9,220.4 M295.3,209.5 L293.8,214.9 L293.8,220.1 M313.0,206.7 L312.2,211.9 L309.7,215.9 L308.0,218.9 L305.4,220.8 L303.7,223.8 M306.0,228.4 L308.6,228.4 L312.0,228.4 L316.6,228.8 L316.6,225.8 L314.0,223.8 L314.9,220.8 L315.7,217.9 M308.6,228.4 L308.6,230.8 L305.3,230.8 M311.5,230.2 L314.0,235.7 L309.8,237.7 L308.0,240.5 M320.9,224.8 L319.7,232.8 L316.6,236.7 L315.7,240.7 L310.1,242.7 M310.1,244.3 L316.6,245.6 L319.1,248.6 L322.5,246.6 L326.8,250.6 L326.7,254.6 L330.1,254.6 L333.1,256.2 L335.2,256.0 L337.7,258.2 L339.4,259.2 L339.9,257.0 L338.4,249.6 L339.1,248.6 M339.1,248.6 L339.7,241.7 L339.2,237.7 L339.9,235.5 L340.3,232.8 L340.6,229.8 L342.3,227.8 L341.8,225.6 M347.4,224.4 L349.2,229.8 L347.5,234.7 L341.5,234.7 M339.9,235.5 L341.5,234.7 L342.0,237.5 L341.5,239.7 L339.7,241.7 M347.5,234.7 L353.5,238.7 L356.3,242.1 M339.1,248.6 L342.2,250.0 L345.5,251.6 L348.0,255.6 L353.1,255.8 L358.1,253.4 M326.6,258.6 L326.4,265.1 L328.9,267.5 M309.1,267.1 L312.0,267.1 L320.5,267.3 L324.6,268.5 L328.9,267.5 L331.9,268.1 L336.6,265.5 L340.7,263.7 L342.7,261.5 L345.3,259.6 L346.0,252.6 M346.0,252.6 L347.9,256.6 L348.6,261.5 L349.3,265.5 L348.4,266.5 M345.3,259.6 L347.8,261.5 M340.7,263.7 L345.0,266.5 L344.5,270.5 L341.9,277.1 M331.9,268.1 L333.0,271.5 L336.2,275.5 L338.4,276.9 L341.9,277.1 L342.4,282.5 L343.7,286.1 M324.6,268.5 L324.4,276.5 L322.7,276.5 L322.5,282.1 L322.2,289.3 L316.4,289.7 M322.5,282.1 L327.4,283.5 L331.6,283.5 L334.2,280.5 L338.4,276.9 M333.6,291.7 L335.3,290.1 L337.6,290.9 L336.7,293.5 L334.7,293.5 L333.6,291.7 M260.7,208.3 L265.9,207.7 M266.6,214.9 L270.4,213.5 L271.2,216.3 L269.7,219.3 M271.2,216.3 L274.6,217.7 L276.3,224.0 M275.5,212.5 L274.6,217.7 M260.6,205.4 L265.7,205.9 M275.2,149.4 L279.0,149.8 L278.1,153.7 L277.2,158.1 M286.4,146.4 L290.0,147.8 L294.2,148.4 M292.9,131.5 L295.5,133.6 L297.9,134.5 L301.6,135.5 L300.8,138.2 L298.4,140.9 L299.9,141.5 L299.5,143.3 L300.8,145.6 M294.2,130.9 L298.1,130.1 L299.2,129.0 L299.5,127.3 M298.1,130.1 L298.3,132.0 L297.9,134.5 M301.9,124.3 L303.8,124.5 M310.0,126.1 L310.8,128.6 L311.6,131.6 L307.9,133.0 L307.2,133.2 L310.1,135.9 L309.0,138.4 L304.4,138.4 L300.8,138.2 M298.4,140.9 L302.2,140.9 L305.3,140.3 L303.7,138.4 M305.2,139.7 L308.3,139.4 L310.2,140.3 L313.7,139.9 M310.1,135.9 L311.8,135.5 L314.9,136.1 L315.2,137.4 L314.4,139.4 L313.7,139.9 M311.6,131.6 L313.9,133.0 L317.5,134.5 L323.2,135.3 L325.1,132.6 L324.1,129.7 L323.6,126.0 L322.5,125.2 L317.7,125.2 M314.9,136.1 L317.5,134.5 M315.2,137.4 L317.8,137.8 L322.7,136.6 M322.7,136.6 L321.4,140.7 L320.2,141.1 L318.1,141.5 L315.3,141.7 L314.5,140.3 L313.7,139.9 M322.7,136.6 L325.7,137.6 L329.6,137.0 L332.6,142.3 M329.6,137.0 L333.3,137.4 L335.2,140.3 L332.6,142.3 M324.4,144.8 L329.6,145.6 L332.7,145.6 M321.4,140.7 L324.4,144.8 L324.4,148.6 L321.3,148.8 L319.6,147.2 L318.9,144.2 L319.1,142.9 M324.4,148.6 L325.4,150.5 L330.5,149.9 L333.1,149.2 M322.1,151.3 L325.4,150.5 M320.9,153.7 L322.1,151.3 M319.6,149.4 L321.3,148.8 L322.1,151.3 M313.4,142.9 L315.4,142.9 L318.9,143.5 L318.1,148.2 M310.1,142.3 L313.3,141.5 L314.5,140.3 M324.1,130.5 L330.9,130.7 L336.4,129.6 L340.5,130.7 L346.3,133.6 L349.5,134.5 L348.0,139.0 M336.4,129.6 L335.2,125.0 L330.4,122.2 M323.6,126.0 L327.6,122.8 L330.4,122.2 M319.5,122.0 L327.6,122.8 M323.8,118.7 L328.5,119.3 L330.4,122.2 M328.5,119.3 L328.6,115.8 M328.3,114.0 L330.8,112.2 L332.4,109.5 L328.6,104.3 L327.0,99.1 M320.6,104.3 L320.7,100.8 L316.5,99.1 M305.0,116.7 L306.6,113.1 L308.9,107.7 L311.5,100.8 L315.2,99.1 L316.5,99.1 L321.9,100.0 L327.0,99.1 M351.4,146.2 L362.1,149.6 L365.3,149.6 M354.4,150.1 L357.7,150.9 L360.7,150.5 L362.1,149.6 M357.7,150.9 L360.1,153.7 L360.1,158.7 M360.1,153.7 L363.1,155.3 L365.3,154.5 L367.1,156.3 M346.9,159.5 L349.3,159.7 L353.3,159.3 L356.9,158.9 L360.1,158.7 M356.9,158.9 L355.8,163.1 L352.2,166.2 M347.2,163.9 L347.6,167.6 L352.2,166.2 M352.2,166.2 L353.2,168.6 L357.0,170.4 L362.7,174.6 L365.7,174.8 L367.8,176.0 M353.2,168.6 L349.6,170.0 L351.5,172.0 L346.7,174.2 M360.1,158.7 L362.5,162.1 L364.0,167.0 L366.7,169.4 L368.8,173.0 M375.5,158.3 L380.1,157.1 L387.0,159.9 L387.8,162.1 L387.4,166.1 L390.2,170.6 L389.0,173.4 L392.0,174.4 L391.7,182.6 M361.7,200.2 L363.6,198.2 L368.7,199.0 L376.8,195.0 L382.4,189.0 L381.5,187.6 L376.0,185.2 L375.2,184.6 M376.8,195.0 L379.1,199.6 M382.4,189.0 L382.9,183.2 M387.8,162.1 L391.4,161.9 L393.2,158.5 L397.7,158.7 L401.0,157.9 L403.7,159.1 L408.4,158.7 M408.4,158.7 L404.2,161.1 L404.2,165.1 L402.0,166.1 L402.7,170.0 L398.4,173.4 L392.0,174.2 L389.0,173.4 M372.3,149.2 L377.2,150.5 L379.9,148.2 L384.4,150.7 L387.7,153.1 L391.9,156.1 L395.5,158.3 M375.7,143.3 L377.2,150.5 M379.3,142.3 L383.6,144.2 L391.1,146.2 L396.3,151.1 L399.9,150.1 L404.2,151.5 L401.5,153.1 L398.6,154.1 L397.2,158.5 M399.9,150.1 L405.4,147.0 L414.6,148.2 L409.1,152.1 L405.7,154.1 L409.0,158.3 M362.3,138.4 L363.6,130.7 L371.5,132.4 L380.3,131.6 L378.6,126.0 L389.4,123.5 L400.5,126.0 L408.7,131.6 L414.6,131.6 L420.5,135.1 M421.7,135.1 L426.8,132.2 L434.6,129.7 L445.2,133.0 L452.0,134.7 L464.7,133.9 L465.8,127.3 L479.4,132.6 L488.6,138.0 L493.9,136.6 L494.6,143.3 L493.6,147.2 L493.7,148.4 M421.7,135.1 L428.2,141.3 L439.2,148.0 L454.1,149.9 L462.7,146.2 L471.8,139.4 L464.7,133.9 M420.5,135.1 L416.3,142.3 L412.8,143.5 L414.6,148.2 M408.4,158.7 L414.5,162.1 L411.3,168.0 L411.3,172.0 L407.3,177.4 L405.2,180.0 L407.5,184.0 L403.2,185.8 M414.5,162.1 L417.8,168.0 L421.2,172.4 L422.6,175.4 M421.1,175.4 L428.1,178.0 L435.2,180.0 L434.9,177.2 L431.2,177.0 L423.7,172.4 L421.2,172.4 M436.1,178.4 L441.5,179.2 L449.2,176.4 L446.6,179.8 L446.8,185.0 L445.4,189.0 L444.6,190.4 M436.5,180.4 L438.5,182.4 L442.3,183.0 L443.2,186.0 L442.2,187.2 L444.6,190.4 M436.5,180.4 L435.8,184.0 L438.3,189.0 M449.2,176.4 L452.9,182.0 L451.8,185.0 L455.9,188.8 L458.6,190.0 L457.5,192.2 L455.2,193.6 L453.7,196.0 L455.9,200.0 L457.6,204.0 L457.2,211.9 M458.6,190.0 L460.3,188.2 L464.8,187.0 L467.7,187.4 L470.3,189.8 M460.3,188.2 L464.0,192.0 L465.4,195.4 L467.4,197.0 L470.3,200.0 L471.8,203.0 M457.5,192.2 L459.9,198.0 L465.8,198.0 L468.2,203.0 M463.4,208.5 L464.1,204.4 L468.4,204.6 L471.9,204.0 L469.8,209.9 L467.5,212.1 M460.7,220.1 L463.0,221.2 L463.8,220.4 M485.8,153.1 L488.4,149.6 L491.0,148.4 L493.7,148.4 M490.8,157.7 L493.5,155.9 M489.6,224.2 L487.1,224.8 L485.5,229.8 L481.2,230.8 L477.1,228.8 M530.9,237.9 L530.0,250.8 M148.2,139.9 L153.1,137.4 L155.6,135.9 L159.0,136.1 L159.5,139.6 L156.6,140.3 L154.7,139.4 L150.6,140.1 L148.2,139.9 M151.4,149.8 L153.3,145.2 L155.4,141.7 L158.6,141.3 L157.3,143.3 L154.9,146.2 L153.9,148.8 L151.4,149.8 M159.3,141.5 L162.3,141.7 L165.2,142.3 L165.4,144.0 L162.7,144.2 L160.6,147.2 L159.5,145.2 L160.5,143.3 L159.1,141.9 L159.3,141.5 M158.3,149.8 L161.7,148.2 L165.8,147.6 L164.2,148.8 L160.3,150.1 L158.3,149.8 M164.9,146.6 L168.0,145.4 L170.8,144.8 L170.1,146.4 L166.9,146.6 L164.9,146.6" fill="none" stroke="#283046" stroke-width="1"/>
<path d="M339.6,235.6 L341.2,235.9 L341.3,237.6 L340.6,238.4 L341.2,240.2 L340.5,242.4 L339.4,241.2 L339.9,239.3 L339.3,237.5Z" fill="#000"/>
</g>
<circle cx="126.5" cy="132.2" r="11.6" fill="#fff"/><circle cx="126.5" cy="132.2" r="7.8" fill="#0094ff"/>
<circle cx="329.45" cy="126.5" r="11.6" fill="#fff"/><circle cx="329.45" cy="126.5" r="7.8" fill="#0094ff"/>
<circle cx="468.3" cy="184.0" r="11.6" fill="#fff"/><circle cx="468.3" cy="184.0" r="7.8" fill="#0094ff"/>
<circle cx="185.8" cy="278.2" r="11.6" fill="#fff"/><circle cx="185.8" cy="278.2" r="7.8" fill="#0094ff"/>
<circle cx="512.5" cy="284.5" r="11.6" fill="#fff"/><circle cx="512.5" cy="284.5" r="7.8" fill="#0094ff"/>
</svg>
<div class="tt" style="left:30.35px;top:33.70px;width:192.3px;height:90.5px;"></div>
<div class="ar" style="left:118.50px;top:124.20px;"></div>
<div class="tt" style="left:272.60px;top:28.00px;width:113.7px;height:90.5px;"></div>
<div class="ar" style="left:321.45px;top:118.50px;"></div>
<div class="tt" style="left:416.50px;top:85.50px;width:103.6px;height:90.5px;"></div>
<div class="ar" style="left:460.30px;top:176.00px;"></div>
<div class="tt" style="left:88.80px;top:179.70px;width:194.0px;height:90.5px;"></div>
<div class="ar" style="left:177.80px;top:270.20px;"></div>
<div class="tt" style="left:450.30px;top:186.00px;width:124.4px;height:90.5px;"></div>
<div class="ar" style="left:504.50px;top:276.50px;"></div>
<span class="tx" style="left:50.10px;top:55.90px;transform:scaleX(1.1029)">North America</span>
<span class="tx" style="left:90.79px;top:83.85px;transform:scaleX(1.0149)">55.54%</span>
<span class="tx" style="left:292.52px;top:50.10px;transform:scaleX(1.0791)">Europe</span>
<span class="tx" style="left:293.20px;top:78.30px;transform:scaleX(1.0368)">30.03%</span>
<span class="tx" style="left:435.60px;top:107.45px;transform:scaleX(0.9951)">Asia</span>
<span class="tx" style="left:435.68px;top:135.75px;transform:scaleX(0.9239)">13.53%</span>
<span class="tx" style="left:107.30px;top:201.15px;transform:scaleX(1.0964)">South America</span>
<span class="tx" style="left:155.05px;top:229.90px;transform:scaleX(1.0518)">0.26%</span>
<span class="tx" style="left:469.62px;top:208.20px;transform:scaleX(1.0766)">Oceania</span>
<span class="tx" style="left:482.38px;top:236.55px;transform:scaleX(1.0214)">0.52%</span>
</body></html>
